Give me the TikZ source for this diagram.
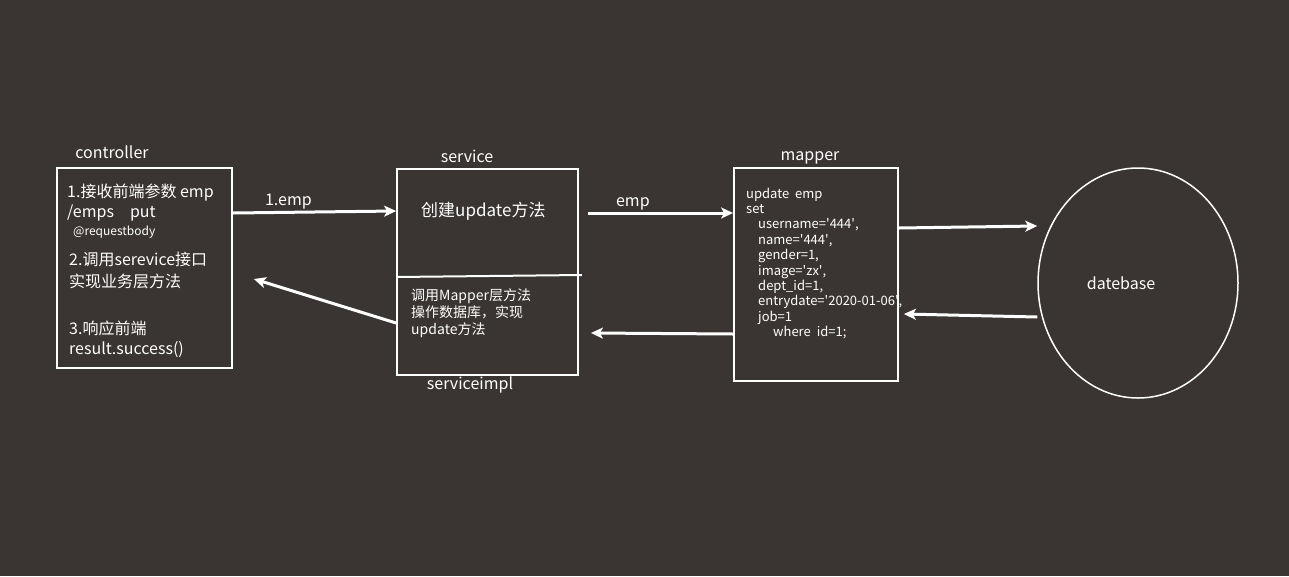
\documentclass[tikz,border=0pt]{standalone}
\usepackage{fontspec}
\setmainfont{Noto Sans CJK SC}
\usepackage{tikz}
\usetikzlibrary{arrows.meta,shapes.geometric}
\definecolor{bgdark}{RGB}{58,53,50}
\newcommand{\q}{\textquotesingle}
\tikzset{
  layerbox/.style={draw=white, line width=1.8pt, inner sep=0pt},
  flow/.style={draw=white, line width=3pt, -{Stealth[length=12pt,width=11pt,inset=3pt]}},
  title/.style={font=\fontsize{16pt}{19pt}\selectfont},
  txt/.style={anchor=west, inner sep=0pt, font=\fontsize{16pt}{19pt}\selectfont}
}
\begin{document}
\begin{tikzpicture}[x=1pt, y=-1pt, every node/.style={text=white}]
        \fill[bgdark] (0,0) rectangle (1289,576);          %background
        \node[layerbox, minimum width=175pt, minimum height=200pt]
             (controller) at (144.5,268) {};
        \node[layerbox, minimum width=181pt, minimum height=206pt]
             (service) at (487.5,272) {};
        \node[layerbox, minimum width=164pt, minimum height=213pt]
             (mapper) at (816,274.5) {};
        \node[draw=white, line width=1.5pt, ellipse, minimum width=200pt,
             minimum height=230pt] (db) at (1138,283) {};
        \draw[white, line width=2pt] ([yshift=-5pt]service.west)
             -- ([xshift=3pt,yshift=-3pt]service.east);   %service / serviceimpl
        \node[title] (lc) at (112,152) {controller};
        \node[title] (ls) at (467,156) {service};
        \node[title] (li) at (470,385) {serviceimpl};
        \node[title] (lm) at (810,158) {mapper};
        \node[title] (ldb) at (1121,283) {datebase};
        % controller
        \node[txt] (c1) at (67,193) {1.接收前端参数 emp};
        \node[txt] (c2) at (67,213) {/emps\hspace{16pt}put};
        \node[txt, font=\fontsize{12pt}{14pt}\selectfont] (c3) at (73,232) {@requestbody};
        \node[txt] (c4) at (69,259) {2.调用serevice接口};
        \node[txt] (c5) at (69,281) {实现业务层方法};
        \node[txt] (c6) at (69,328) {3.响应前端};
        \node[txt] (c7) at (69,350) {result.success()};
        % service
        \node[txt, font=\fontsize{17pt}{20pt}\selectfont] (s1) at (421,211) {创建update方法};
        \node[txt, font=\fontsize{14pt}{17pt}\selectfont, align=left] (s2) at (411,313)
             {调用Mapper层方法\\操作数据库，实现\\update方法};
        % mapper
        \node[txt, font=\fontsize{13pt}{15.4pt}\selectfont, align=left] (m1) at (746,263.5)
             {update\hspace{6pt}emp\\set\\
              \hspace*{12pt}username=\q444\q,\\
              \hspace*{12pt}name=\q444\q,\\
              \hspace*{12pt}gender=1,\\
              \hspace*{12pt}image=\q zx\q,\\
              \hspace*{12pt}dept\_id=1,\\
              \hspace*{12pt}entrydate=\q2020-01-06\q,\\
              \hspace*{12pt}job=1\\
              \hspace*{27pt}where\hspace{6pt}id=1;};
        % arrows
        \draw[flow] ([yshift=55pt]controller.east) -- ([yshift=61pt]service.west)
             node[pos=0.34, above=-2pt, title] (a1) {1.emp};
        \draw[flow] ([xshift=9pt,yshift=59pt]service.east) -- ([yshift=61.5pt]mapper.west)
             node[pos=0.31, above=-2pt, title] (a2) {emp};
        \draw[flow] ([yshift=46.5pt]mapper.east) -- ([yshift=57pt]db.west);
        \draw[flow] ([yshift=-34pt]db.west) -- ([xshift=5pt,yshift=-39.5pt]mapper.east);
        \draw[flow] ([yshift=-59.5pt]mapper.west) -- ([xshift=12pt,yshift=-61pt]service.east);
        \draw[flow] ([yshift=-51pt]service.west) -- ([xshift=21pt,yshift=-11pt]controller.east);
\end{tikzpicture}
\end{document}
